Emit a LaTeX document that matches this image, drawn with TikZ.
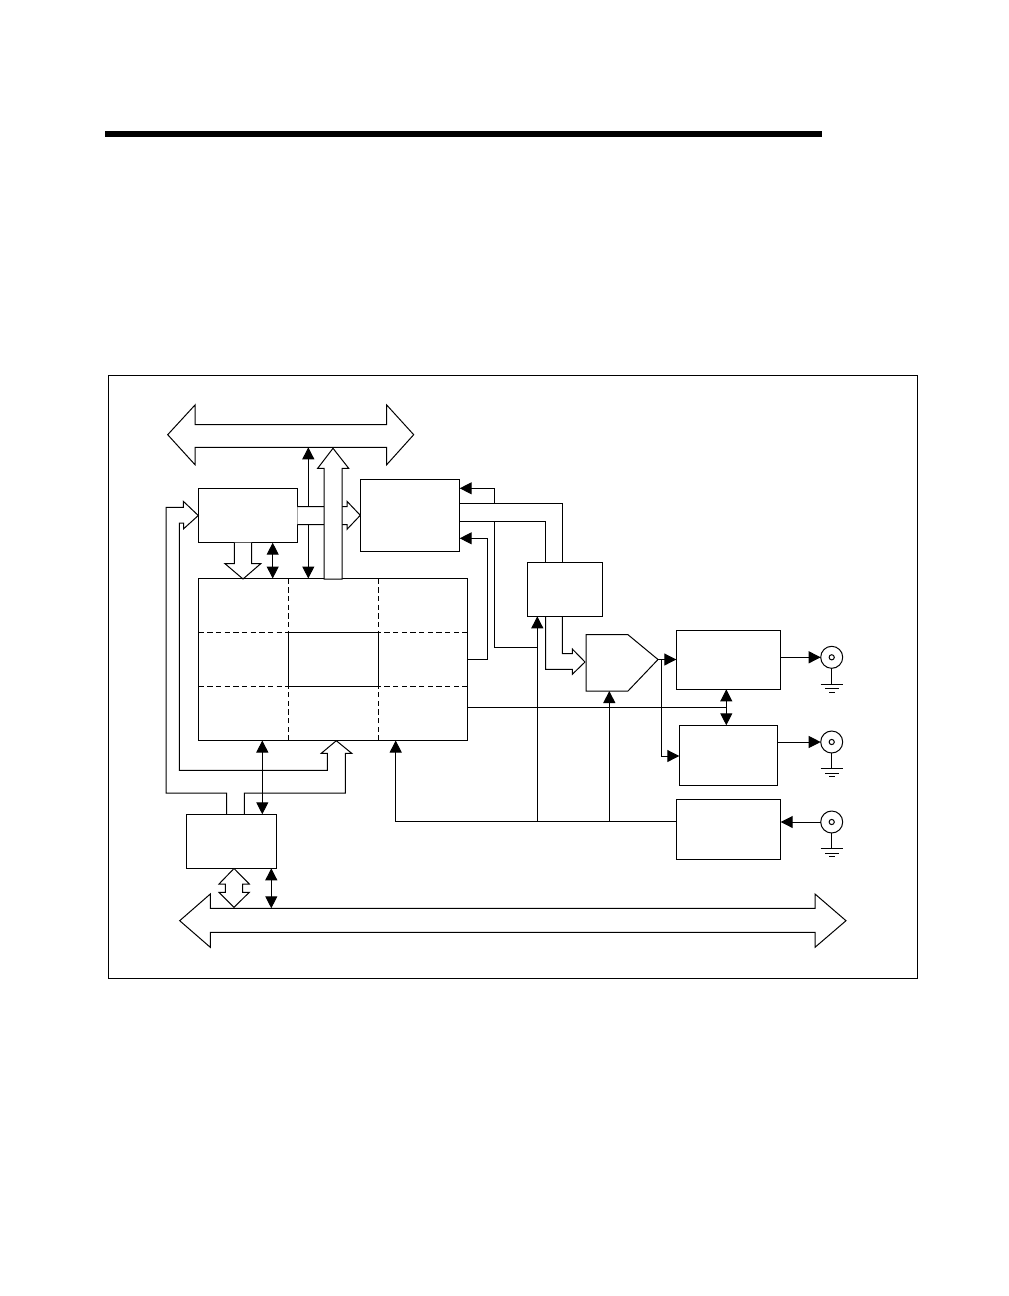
\documentclass[tikz,border=0pt]{standalone}
\usetikzlibrary{calc, positioning}
\usetikzlibrary{arrows.meta}

\tikzset{
  wire/.style={line width=0.75pt},
  split/.style={line width=0.75pt, dash pattern=on 4pt off 2.5pt},
  block/.style n args={2}{draw, line width=0.75pt, inner sep=0pt, outer sep=0pt,
    minimum width=#1*0.75pt, minimum height=#2*0.75pt},
  coax/.style={draw, circle, line width=0.75pt, inner sep=0pt, outer sep=0pt,
    minimum size=16.5pt},
  pipe/.style={draw, fill=white, line width=0.75pt, line join=miter},
  headin/.style={-{Triangle[length=9pt, width=9pt]}},
  headboth/.style={{Triangle[length=9pt, width=9pt]}-{Triangle[length=9pt, width=9pt]}},
}

\begin{document}
\begin{tikzpicture}[x=0.75pt, y=-0.75pt]
\useasboundingbox (0,0) rectangle (1008,1296);

\fill (105,130.5) rectangle (822,136.5);
\draw[wire] (108.5,375.5) rectangle (917.5,978);

\node[block={99}{54.4}] (ctrl) at (247.8,515.5) {};
\node[block={99.4}{72}] (fifo) at (410,515.3) {};
\node[block={269}{162}] (mem) at (333,659.5) {};
\node[block={90}{54}] (cell) at (333.5,659.5) {};
\node[block={90.4}{54}] (iface) at (231.5,841.3) {};
\node[block={75.4}{54}] (conv) at (565,589.3) {};
\node[block={104.4}{59.3}] (outa) at (728.5,659.7) {};
\node[block={98}{60}] (outb) at (728.3,755.3) {};
\node[block={104.4}{60}] (trig) at (728.5,829.3) {};

\foreach \side in {west,east} {
  \draw[split] (mem.north -| cell.\side) -- (cell.north \side);
  \draw[split] (mem.south -| cell.\side) -- (cell.south \side);
  \draw[split] (mem.\side |- cell.north) -- (cell.north \side);
  \draw[split] (mem.\side |- cell.south) -- (cell.south \side);
}

\foreach \n/\cy in {coaxa/657.3, coaxb/742, coaxc/822} {
  \node[coax] (\n) at (831.7,\cy) {};
  \draw[wire] (\n) circle (2.6);
  \draw[wire] (\n.south) -- ($(\n)+(0,26.7)$);
  \draw[wire] ($(\n)+(-11,26.7)$) -- ($(\n)+(11.5,26.7)$);
  \draw[wire] ($(\n)+(-6.5,31.4)$) -- ($(\n)+(7,31.4)$);
  \draw[wire] ($(\n)+(-2.7,34.7)$) -- ($(\n)+(3.3,34.7)$);
}

\coordinate (hostbus) at (290,447.3);
\coordinate (pcbus) at (512,908.3);
\coordinate (sync) at (450,821.3);

\draw[pipe] (167.7,434.7) -- (195,405) -- (195,424.7) -- (386.7,424.7) -- (386.7,405) -- (413.7,434.7)
  -- (386.7,464.7) -- (386.7,447.3) -- (195,447.3) -- (195,464.7) -- cycle;
\draw[pipe] (179.7,920.7) -- (210.3,894) -- (210.3,908.3) -- (815,908.3) -- (815,894) -- (846,920.7)
  -- (815,947.3) -- (815,932.3) -- (210.3,932.3) -- (210.3,947.3) -- cycle;

\draw[wire, headboth] (hostbus -| 308.3,0) -- (mem.north -| 308.3,0);
\draw[wire, headboth] (ctrl.south -| 272.7,0) -- (mem.north -| 272.7,0);
\draw[wire, headboth] (mem.south -| 262.3,0) -- (iface.north -| 262.3,0);
\draw[wire, headboth] (iface.south -| 271.3,0) -- (pcbus -| 271.3,0);
\draw[wire, headboth] (outa.south -| 726.3,0) -- (outb.north -| 726.3,0);

\draw[pipe] (ctrl.east |- 0,506.7) -- (347,506.7) -- (347,501.3) -- (fifo.west) -- (347,529.3)
  -- (347,524.7) -- (ctrl.east |- 0,524.7);
\draw[pipe] (324,579) -- (324,468.3) -- (317.7,468.3) -- (333,448.3) -- (348.7,468.3) -- (342,468.3) -- (342,579) -- cycle;
\draw[pipe] (234.3,542.7) -- (234.3,563.7) -- (225,563.7) -- (243,579) -- (260.7,563.7) -- (251.7,563.7) -- (251.7,542.7);
\draw[pipe] (234,868.5) -- (219,884) -- (225.3,884) -- (225.3,892.3) -- (219,892.3) -- (234,907.3)
  -- (249.3,892.3) -- (242.7,892.3) -- (242.7,884) -- (249.3,884) -- cycle;

\draw[wire] (iface.north -| 226.7,0) -- (226.7,793) -- (166,793) -- (166,507.3) -- (183.3,507.3) -- (183.3,501.3)
  -- (ctrl.west) -- (183.7,528.7) -- (183.7,523) -- (179.3,523) -- (179.3,770.3) -- (327.3,770.3)
  -- (327.3,753.3) -- (321.3,753.3) -- (336.3,740.7) -- (351.7,753.3) -- (345.3,753.3) -- (345.3,793)
  -- (244.3,793) -- (iface.north -| 244.3,0);

\draw[wire, headin] (fifo.east |- 0,503.3) -- (494.7,503.3) -- (494.7,488.3) -- (fifo.east |- 0,488.3);
\draw[wire] (494.7,503.3) -- (562.3,503.3) -- (conv.north -| 562.3,0);
\draw[wire] (fifo.east |- 0,521.7) -- (545.7,521.7) -- (conv.north -| 545.7,0);
\draw[wire] (494.7,521.7) -- (494.7,647.3) -- (537.3,647.3);
\draw[wire, headin] (mem.east |- 0,659.3) -- (487.3,659.3) -- (487.3,538.3) -- (fifo.east |- 0,538.3);

\draw[wire] (conv.south -| 562.3,0) -- (562.3,653.7) -- (572.3,653.7) -- (572.3,649) -- (585,662)
  -- (572.3,674.3) -- (572.3,669.3) -- (545.7,669.3) -- (conv.south -| 545.7,0);
\draw[pipe] (586,634.7) -- (628,634.7) -- (658,659.5) -- (628,691) -- (586,691) -- cycle;

\draw[wire] (mem.east |- 0,707.3) -- (726.3,707.3);
\draw[wire, headin] (658,659.5) -- (outa.west |- 0,659.5);
\draw[wire, headin] (661.3,659.5) -- (661.3,756) -- (outb.west |- 0,756);
\draw[wire, headin] (outa.east |- coaxa) -- (coaxa.west);
\draw[wire, headin] (outb.east |- coaxb) -- (coaxb.west);
\draw[wire, headin] (coaxc.west) -- (trig.east |- coaxc);

\draw[wire, headin] (trig.west |- sync) -- (395.7,821.3) -- (mem.south -| 395.7,0);
\draw[wire, headin] (sync -| 537.3,0) -- (conv.south -| 537.3,0);
\draw[wire, headin] (sync -| 609.3,0) -- (609.3,691);
\end{tikzpicture}
\end{document}
